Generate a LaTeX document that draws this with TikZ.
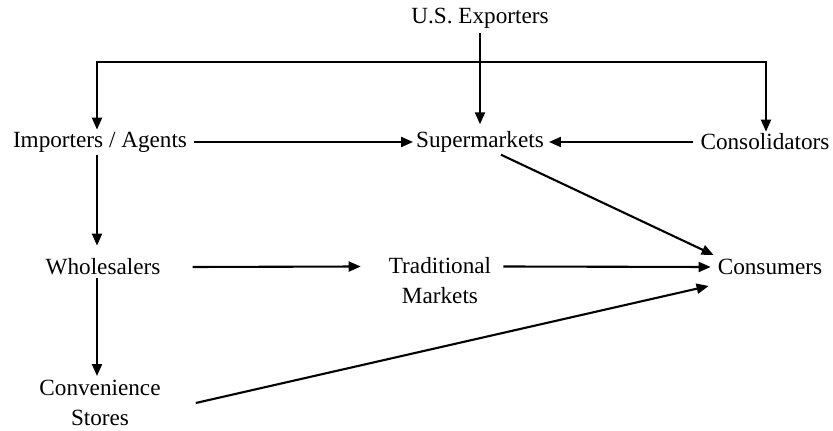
\documentclass[tikz,border=0pt]{standalone}
\usepackage{fontspec}
\setmainfont{Liberation Serif}
\usetikzlibrary{arrows.meta}
\begin{document}
\begin{tikzpicture}[x=1pt,y=1pt,
  lbl/.style={inner sep=0pt,font=\fontsize{23.2}{30}\selectfont,align=center},
  arr/.style={line width=2.1pt,-{Triangle[length=12pt,width=10pt]}},
  ln/.style={line width=1.8pt}]
\useasboundingbox[fill=white] (0,0) rectangle (833,431);
\node[lbl] (exp) at (480,413) {U.S. Exporters};
\node[lbl] (imp) at (100,289) {Importers / Agents};
\node[lbl] (sup) at (480,289) {Supermarkets};
\node[lbl] (cons) at (765,289) {Consolidators};
\node[lbl] (whole) at (103,164) {Wholesalers};
\node[lbl] (trad) at (440,150) {Traditional\\Markets};
\node[lbl] (cust) at (770,164) {Consumers};
\node[lbl] (conv) at (100,28) {Convenience\\Stores};
\coordinate (bar) at (480,369);
% exporters
\draw[arr] ([yshift=-5pt]exp.south) -- ([yshift=7pt]sup.north);
\draw[ln] (bar) -| ([xshift=-3pt,yshift=10pt]imp.north);
\draw[arr] ([xshift=-3pt,yshift=25pt]imp.north) -- ([xshift=-3pt,yshift=2pt]imp.north);
\draw[ln] (bar) -| ([xshift=1pt,yshift=10pt]cons.north);
\draw[arr] ([xshift=1pt,yshift=25pt]cons.north) -- ([xshift=1pt,yshift=2pt]cons.north);
% row 1
\draw[arr] ([xshift=7pt]imp.east) -- ([xshift=-3pt]sup.west);
\draw[arr] ([xshift=-7pt]cons.west) -- ([xshift=5pt]sup.east);
\draw[arr] ([xshift=-43pt,yshift=-2pt]sup.south east) -- ([xshift=-4pt,yshift=4pt]cust.north west);
% column 1
\draw[arr] ([xshift=-3pt,yshift=-3pt]imp.south) -- ([xshift=-6pt,yshift=13pt]whole.north);
\draw[arr] ([xshift=-6pt,yshift=-3pt]whole.south) -- ([xshift=-3pt,yshift=4pt]conv.north);
% row 2
\draw[arr] ([xshift=32pt]whole.east) -- ([xshift=-28pt,yshift=14.5pt]trad.west);
\draw[arr] ([xshift=12pt,yshift=14.5pt]trad.east) -- ([xshift=-7pt]cust.west);
\draw[arr] ([xshift=35pt]conv.east) -- ([xshift=-9pt,yshift=-19pt]cust.west);
\end{tikzpicture}
\end{document}
